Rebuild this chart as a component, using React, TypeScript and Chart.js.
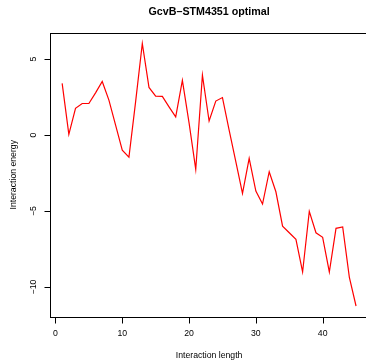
import React, { useEffect, useRef } from "react";
import { Chart, registerables } from "chart.js";

Chart.register(...registerables);

const lengths = [
  1, 2, 3, 4, 5, 6, 7, 8, 9, 10, 11, 12, 13, 14, 15, 16, 17, 18, 19, 20, 21, 22, 23,
  24, 25, 26, 27, 28, 29, 30, 31, 32, 33, 34, 35, 36, 37, 38, 39, 40, 41, 42, 43, 44, 45,
];
const energies = [
  3.4, 0.05, 1.76, 2.08, 2.08, 2.78, 3.53, 2.3, 0.66, -0.99, -1.45, 2.2, 6.03, 3.14, 2.57,
  2.55, 1.86, 1.2, 3.6, 0.8, -2.26, 3.95, 0.93, 2.24, 2.47, 0.33, -1.75, -3.84, -1.53, -3.68,
  -4.54, -2.41, -3.73, -5.99, -6.43, -6.86, -9.01, -5.02, -6.43, -6.73, -9.01, -6.14, -6.05,
  -9.36, -11.25,
];
const xTicks = [0, 10, 20, 30, 40];
const yTicks = [-10, -5, 0, 5];
const titleText = "GcvB\u2013STM4351 optimal";
const xTitle = "Interaction length";
const yTitle = "Interaction energy";

const FONT = '"Liberation Sans", Arial, Helvetica, sans-serif';

function extend(vals: number[]) {
  const lo = Math.min(...vals);
  const hi = Math.max(...vals);
  const d = (hi - lo) * 0.04;
  return [lo - d, hi + d];
}

const rPlot = {
  id: "rPlot",
  afterDraw(chart: any) {
    const ctx = chart.ctx as CanvasRenderingContext2D;
    const { left, right, top, bottom } = chart.chartArea;
    const xs = chart.scales.x;
    const ys = chart.scales.y;
    ctx.save();
    ctx.strokeStyle = "#000";
    ctx.lineWidth = 1;
    ctx.strokeRect(Math.round(left) + 0.5, Math.round(top) + 0.5, Math.round(right - left), Math.round(bottom - top));
    ctx.fillStyle = "#000";
    ctx.font = `8.7px ${FONT}`;
    const b = Math.round(bottom) + 0.5;
    ctx.beginPath();
    const x0 = Math.round(xs.getPixelForValue(xTicks[0])) + 0.5;
    const x1 = Math.round(xs.getPixelForValue(xTicks[xTicks.length - 1])) + 0.5;
    ctx.moveTo(x0, b);
    ctx.lineTo(x1, b);
    xTicks.forEach((t) => {
      const px = Math.round(xs.getPixelForValue(t)) + 0.5;
      ctx.moveTo(px, b);
      ctx.lineTo(px, b + 6);
    });
    ctx.stroke();
    ctx.textAlign = "center";
    ctx.textBaseline = "middle";
    xTicks.forEach((t) => {
      ctx.fillText(String(t), xs.getPixelForValue(t), 334);
    });
    const l = Math.round(left) + 0.5;
    ctx.beginPath();
    yTicks.forEach((t) => {
      const py = Math.round(ys.getPixelForValue(t)) + 0.5;
      ctx.moveTo(l, py);
      ctx.lineTo(l - 6, py);
    });
    ctx.stroke();
    yTicks.forEach((t) => {
      ctx.save();
      ctx.translate(33.5, ys.getPixelForValue(t));
      ctx.rotate(-Math.PI / 2);
      ctx.fillText(t < 0 ? "\u2212" + Math.abs(t) : String(t), 0, 0);
      ctx.restore();
    });
    const cx = (left + right) / 2;
    ctx.fillText(xTitle, cx, 355.5);
    ctx.save();
    ctx.translate(14, (top + bottom) / 2);
    ctx.rotate(-Math.PI / 2);
    ctx.fillText(yTitle, 0, 0);
    ctx.restore();
    ctx.font = `bold 10.7px ${FONT}`;
    ctx.fillText(titleText, cx, 12.5);
    ctx.restore();
  },
};

export default function App() {
  const ref = useRef<HTMLCanvasElement | null>(null);
  useEffect(() => {
    if (!ref.current) return;
    const [xmin, xmax] = extend(lengths);
    const [ymin, ymax] = extend(energies);
    const chart = new Chart(ref.current, {
      type: "line",
      data: {
        datasets: [
          {
            data: lengths.map((x, i) => ({ x, y: energies[i] })),
            borderColor: "#ff0000",
            borderWidth: 1.2,
            pointRadius: 0,
            tension: 0,
            fill: false,
          },
        ],
      },
      options: {
        responsive: false,
        animation: false,
        devicePixelRatio: 1,
        layout: { padding: { left: 50.4, right: 12.2, top: 33, bottom: 44.5 } },
        plugins: { legend: { display: false }, tooltip: { enabled: false }, title: { display: false } },
        scales: {
          x: { type: "linear", min: xmin, max: xmax, display: false },
          y: { type: "linear", min: ymin, max: ymax, display: false },
        },
      },
      plugins: [rPlot],
    });
    return () => chart.destroy();
  }, []);
  return (
    <div
      style={{
        position: "absolute",
        left: 0,
        top: 0,
        width: 366,
        height: 361,
        overflow: "hidden",
        background: "#fff",
      }}
    >
      <canvas ref={ref} width={380} height={361} style={{ width: 380, height: 361, display: "block" }} />
    </div>
  );
}
